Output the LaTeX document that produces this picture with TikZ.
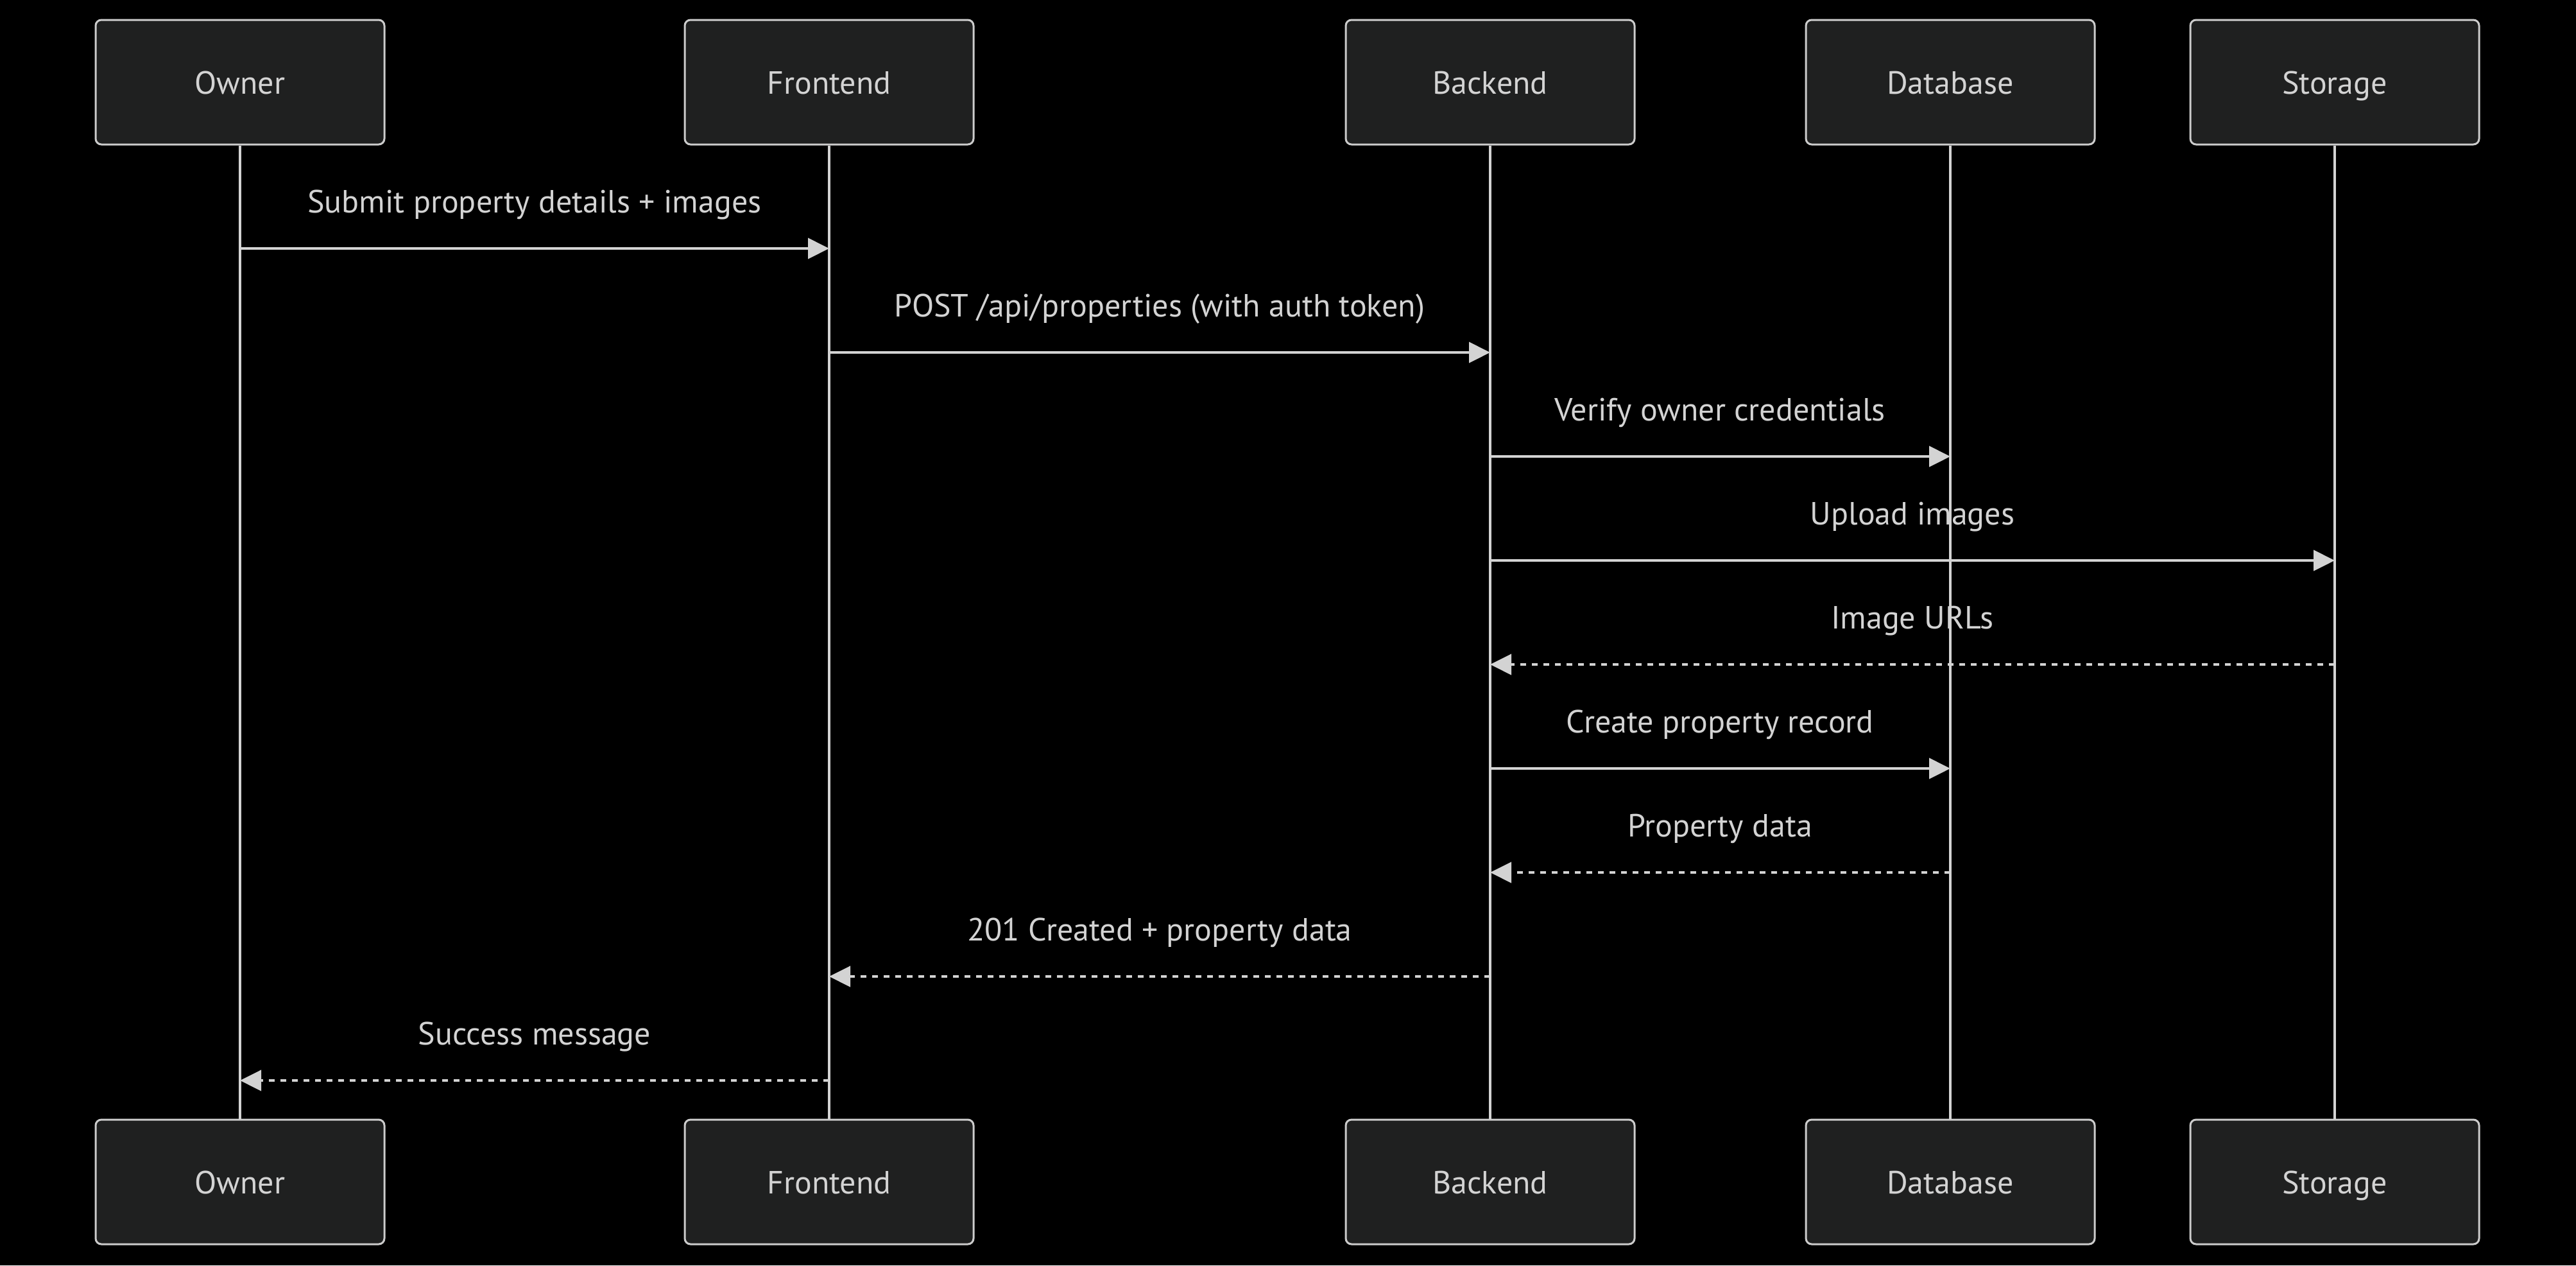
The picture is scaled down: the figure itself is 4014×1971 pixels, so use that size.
\documentclass[tikz,border=0pt]{standalone}
\usepackage{fontspec}
\setmainfont{PT Sans}
\usetikzlibrary{arrows.meta}
\definecolor{boxfill}{RGB}{31,32,32}
\definecolor{boxline}{RGB}{204,204,204}
\definecolor{lineclr}{RGB}{211,211,211}
\definecolor{txt}{RGB}{211,211,211}
\tikzset{
  actor/.style={draw=boxline, fill=boxfill, line width=3pt, rounded corners=9pt,
    minimum width=450pt, minimum height=194pt, text=txt, inner sep=0pt,
    text height=36pt, text depth=0pt,
    font=\fontsize{50}{60}\selectfont},
  life/.style={draw=lineclr, line width=4pt},
  msg/.style={draw=lineclr, line width=4pt, -{Triangle[length=33pt,width=32pt]}},
  reply/.style={msg, dash pattern=on 9pt off 9pt},
  lbl/.style={text=txt, inner sep=0pt, anchor=base,
    font=\fontsize{50}{60}\selectfont}
}
\begin{document}
\begin{tikzpicture}[x=1pt,y=-1pt]
\fill[black] (0,0) rectangle (4014,1971);
\useasboundingbox (0,0) rectangle (4014,1971);
% actors top
\node[actor] (oT) at (374,128) {Owner};
\node[actor] (fT) at (1292,128) {Frontend};
\node[actor] (bT) at (2322,128) {Backend};
\node[actor] (dT) at (3039,128) {Database};
\node[actor] (sT) at (3638,128) {Storage};
% actors bottom
\node[actor] (oB) at (374,1841) {Owner};
\node[actor] (fB) at (1292,1841) {Frontend};
\node[actor] (bB) at (2322,1841) {Backend};
\node[actor] (dB) at (3039,1841) {Database};
\node[actor] (sB) at (3638,1841) {Storage};
% rows
\coordinate (r1) at (0,387);
\coordinate (r2) at (0,549);
\coordinate (r3) at (0,711);
\coordinate (r4) at (0,873);
\coordinate (r5) at (0,1035);
\coordinate (r6) at (0,1197);
\coordinate (r7) at (0,1359);
\coordinate (r8) at (0,1521);
\coordinate (r9) at (0,1683);
% labels
\node[lbl] (l1) at (833,331) {Submit property details + images};
\node[lbl] (l2) at (1807,493) {POST /api/properties (with auth token)};
\node[lbl] (l3) at (2680,655) {Verify owner credentials};
\node[lbl] (l4) at (2980,817) {Upload images};
\node[lbl] (l5) at (2980,979) {Image URLs};
\node[lbl] (l6) at (2680,1141) {Create property record};
\node[lbl] (l7) at (2680,1303) {Property data};
\node[lbl] (l8) at (1807,1465) {201 Created + property data};
\node[lbl] (l9) at (833,1627) {Success message};
% messages
\draw[msg] (oT |- r1) -- (fT |- r1);
\draw[msg] (fT |- r2) -- (bT |- r2);
\draw[msg] (bT |- r3) -- (dT |- r3);
\draw[msg] (bT |- r4) -- (sT |- r4);
\draw[reply] (sT |- r5) -- (bT |- r5);
\draw[msg] (bT |- r6) -- (dT |- r6);
\draw[reply] (dT |- r7) -- (bT |- r7);
\draw[reply] (bT |- r8) -- (fT |- r8);
\draw[reply] (fT |- r9) -- (oT |- r9);
% lifelines
\draw[life] (oT.south) -- (oB.north);
\draw[life] (fT.south) -- (fB.north);
\draw[life] (bT.south) -- (bB.north);
\draw[life] (dT.south) -- (dB.north);
\draw[life] (sT.south) -- (sB.north);
\end{tikzpicture}
\end{document}
